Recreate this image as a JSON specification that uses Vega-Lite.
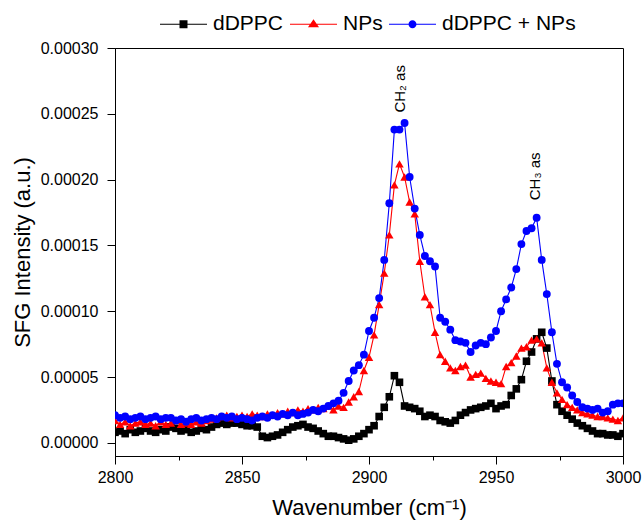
{
  "$schema": "https://vega.github.io/schema/vega-lite/v6.json",
  "width": 508,
  "height": 408,
  "autosize": {"type": "none"},
  "padding": {"left": 115, "top": 48, "right": 19, "bottom": 64},
  "config": {
    "font": "Liberation Sans",
    "view": {"stroke": "#000000", "strokeWidth": 1},
    "axis": {
      "domainColor": "#000000", "domainWidth": 1, "tickColor": "#000000", "tickWidth": 1,
      "labelColor": "#000000", "titleColor": "#000000",
      "labelFont": "Liberation Sans", "titleFont": "Liberation Sans",
      "labelFontSize": 16, "titleFontSize": 22, "titleFontWeight": "normal", "grid": false
    }
  },
  "datasets": {
    "spectra": [
      {"x":2800,"dDPPC":0.8e-5,"NPs":1.7e-5,"dDPPC + NPs":2.1e-5},
      {"x":2802,"dDPPC":0.9e-5,"NPs":1.4e-5,"dDPPC + NPs":1.9e-5},
      {"x":2804,"dDPPC":0.7e-5,"NPs":1.6e-5,"dDPPC + NPs":2.0e-5},
      {"x":2806,"dDPPC":1.0e-5,"NPs":1.3e-5,"dDPPC + NPs":1.8e-5},
      {"x":2808,"dDPPC":0.8e-5,"NPs":1.5e-5,"dDPPC + NPs":1.9e-5},
      {"x":2810,"dDPPC":0.9e-5,"NPs":1.6e-5,"dDPPC + NPs":2.0e-5},
      {"x":2812,"dDPPC":1.1e-5,"NPs":1.4e-5,"dDPPC + NPs":1.8e-5},
      {"x":2814,"dDPPC":0.9e-5,"NPs":1.5e-5,"dDPPC + NPs":1.9e-5},
      {"x":2816,"dDPPC":0.8e-5,"NPs":1.3e-5,"dDPPC + NPs":2.0e-5},
      {"x":2818,"dDPPC":1.0e-5,"NPs":1.6e-5,"dDPPC + NPs":1.8e-5},
      {"x":2820,"dDPPC":0.9e-5,"NPs":1.4e-5,"dDPPC + NPs":1.9e-5},
      {"x":2822,"dDPPC":1.2e-5,"NPs":1.5e-5,"dDPPC + NPs":1.9e-5},
      {"x":2824,"dDPPC":1.1e-5,"NPs":1.7e-5,"dDPPC + NPs":1.7e-5},
      {"x":2826,"dDPPC":0.9e-5,"NPs":1.4e-5,"dDPPC + NPs":1.8e-5},
      {"x":2828,"dDPPC":1.0e-5,"NPs":1.5e-5,"dDPPC + NPs":1.6e-5},
      {"x":2830,"dDPPC":0.8e-5,"NPs":1.4e-5,"dDPPC + NPs":1.8e-5},
      {"x":2832,"dDPPC":0.9e-5,"NPs":1.6e-5,"dDPPC + NPs":1.9e-5},
      {"x":2834,"dDPPC":1.1e-5,"NPs":1.5e-5,"dDPPC + NPs":1.7e-5},
      {"x":2836,"dDPPC":1.0e-5,"NPs":1.7e-5,"dDPPC + NPs":1.8e-5},
      {"x":2838,"dDPPC":1.2e-5,"NPs":1.8e-5,"dDPPC + NPs":1.9e-5},
      {"x":2840,"dDPPC":1.4e-5,"NPs":1.9e-5,"dDPPC + NPs":1.8e-5},
      {"x":2842,"dDPPC":1.5e-5,"NPs":2.0e-5,"dDPPC + NPs":2.0e-5},
      {"x":2844,"dDPPC":1.4e-5,"NPs":2.1e-5,"dDPPC + NPs":1.9e-5},
      {"x":2846,"dDPPC":1.5e-5,"NPs":1.9e-5,"dDPPC + NPs":2.0e-5},
      {"x":2848,"dDPPC":1.5e-5,"NPs":2.0e-5,"dDPPC + NPs":1.8e-5},
      {"x":2850,"dDPPC":1.4e-5,"NPs":2.1e-5,"dDPPC + NPs":1.9e-5},
      {"x":2852,"dDPPC":1.3e-5,"NPs":2.0e-5,"dDPPC + NPs":1.8e-5},
      {"x":2854,"dDPPC":1.3e-5,"NPs":2.2e-5,"dDPPC + NPs":1.7e-5},
      {"x":2856,"dDPPC":1.2e-5,"NPs":2.1e-5,"dDPPC + NPs":1.9e-5},
      {"x":2858,"dDPPC":0.5e-5,"NPs":2.0e-5,"dDPPC + NPs":2.0e-5},
      {"x":2860,"dDPPC":0.4e-5,"NPs":2.2e-5,"dDPPC + NPs":1.9e-5},
      {"x":2862,"dDPPC":0.5e-5,"NPs":2.1e-5,"dDPPC + NPs":2.1e-5},
      {"x":2864,"dDPPC":0.6e-5,"NPs":2.3e-5,"dDPPC + NPs":2.0e-5},
      {"x":2866,"dDPPC":0.8e-5,"NPs":2.2e-5,"dDPPC + NPs":2.2e-5},
      {"x":2868,"dDPPC":1.0e-5,"NPs":2.4e-5,"dDPPC + NPs":2.1e-5},
      {"x":2870,"dDPPC":1.2e-5,"NPs":2.3e-5,"dDPPC + NPs":2.3e-5},
      {"x":2872,"dDPPC":1.3e-5,"NPs":2.5e-5,"dDPPC + NPs":2.1e-5},
      {"x":2874,"dDPPC":1.4e-5,"NPs":2.4e-5,"dDPPC + NPs":2.2e-5},
      {"x":2876,"dDPPC":1.2e-5,"NPs":2.6e-5,"dDPPC + NPs":2.3e-5},
      {"x":2878,"dDPPC":1.1e-5,"NPs":2.5e-5,"dDPPC + NPs":2.5e-5},
      {"x":2880,"dDPPC":0.9e-5,"NPs":2.7e-5,"dDPPC + NPs":2.4e-5},
      {"x":2882,"dDPPC":0.7e-5,"NPs":2.6e-5,"dDPPC + NPs":2.6e-5},
      {"x":2884,"dDPPC":0.5e-5,"NPs":2.8e-5,"dDPPC + NPs":2.8e-5},
      {"x":2886,"dDPPC":0.5e-5,"NPs":2.5e-5,"dDPPC + NPs":3.0e-5},
      {"x":2888,"dDPPC":0.4e-5,"NPs":2.8e-5,"dDPPC + NPs":3.2e-5},
      {"x":2890,"dDPPC":0.3e-5,"NPs":2.7e-5,"dDPPC + NPs":3.8e-5},
      {"x":2892,"dDPPC":0.2e-5,"NPs":3.1e-5,"dDPPC + NPs":4.7e-5},
      {"x":2894,"dDPPC":0.3e-5,"NPs":3.5e-5,"dDPPC + NPs":5.5e-5},
      {"x":2896,"dDPPC":0.5e-5,"NPs":3.9e-5,"dDPPC + NPs":5.9e-5},
      {"x":2898,"dDPPC":0.7e-5,"NPs":5.5e-5,"dDPPC + NPs":6.7e-5},
      {"x":2900,"dDPPC":1.0e-5,"NPs":6.5e-5,"dDPPC + NPs":8.5e-5},
      {"x":2902,"dDPPC":1.3e-5,"NPs":8.2e-5,"dDPPC + NPs":9.5e-5},
      {"x":2904,"dDPPC":2.0e-5,"NPs":10.5e-5,"dDPPC + NPs":11.0e-5},
      {"x":2906,"dDPPC":2.7e-5,"NPs":12.9e-5,"dDPPC + NPs":13.9e-5},
      {"x":2908,"dDPPC":3.5e-5,"NPs":15.8e-5,"dDPPC + NPs":18.2e-5},
      {"x":2910,"dDPPC":5.1e-5,"NPs":19.6e-5,"dDPPC + NPs":23.8e-5},
      {"x":2912,"dDPPC":4.6e-5,"NPs":21.2e-5,"dDPPC + NPs":23.8e-5},
      {"x":2914,"dDPPC":2.8e-5,"NPs":20.2e-5,"dDPPC + NPs":24.3e-5},
      {"x":2916,"dDPPC":2.7e-5,"NPs":18.3e-5,"dDPPC + NPs":20.2e-5},
      {"x":2918,"dDPPC":2.6e-5,"NPs":17.4e-5,"dDPPC + NPs":17.8e-5},
      {"x":2920,"dDPPC":2.4e-5,"NPs":13.8e-5,"dDPPC + NPs":15.8e-5},
      {"x":2922,"dDPPC":2.0e-5,"NPs":11.1e-5,"dDPPC + NPs":14.2e-5},
      {"x":2924,"dDPPC":2.1e-5,"NPs":10.5e-5,"dDPPC + NPs":13.8e-5},
      {"x":2926,"dDPPC":2.0e-5,"NPs":8.4e-5,"dDPPC + NPs":13.4e-5},
      {"x":2928,"dDPPC":1.7e-5,"NPs":6.7e-5,"dDPPC + NPs":9.5e-5},
      {"x":2930,"dDPPC":1.6e-5,"NPs":6.2e-5,"dDPPC + NPs":9.2e-5},
      {"x":2932,"dDPPC":1.5e-5,"NPs":5.7e-5,"dDPPC + NPs":8.6e-5},
      {"x":2934,"dDPPC":1.7e-5,"NPs":5.5e-5,"dDPPC + NPs":7.8e-5},
      {"x":2936,"dDPPC":2.1e-5,"NPs":5.8e-5,"dDPPC + NPs":7.7e-5},
      {"x":2938,"dDPPC":2.3e-5,"NPs":5.9e-5,"dDPPC + NPs":7.6e-5},
      {"x":2940,"dDPPC":2.5e-5,"NPs":5.0e-5,"dDPPC + NPs":6.9e-5},
      {"x":2942,"dDPPC":2.6e-5,"NPs":5.2e-5,"dDPPC + NPs":7.4e-5},
      {"x":2944,"dDPPC":2.7e-5,"NPs":5.3e-5,"dDPPC + NPs":7.6e-5},
      {"x":2946,"dDPPC":2.8e-5,"NPs":4.9e-5,"dDPPC + NPs":7.5e-5},
      {"x":2948,"dDPPC":3.0e-5,"NPs":4.7e-5,"dDPPC + NPs":8.0e-5},
      {"x":2950,"dDPPC":2.6e-5,"NPs":4.6e-5,"dDPPC + NPs":8.5e-5},
      {"x":2952,"dDPPC":2.8e-5,"NPs":4.5e-5,"dDPPC + NPs":10.0e-5},
      {"x":2954,"dDPPC":2.9e-5,"NPs":5.8e-5,"dDPPC + NPs":10.9e-5},
      {"x":2956,"dDPPC":3.6e-5,"NPs":6.1e-5,"dDPPC + NPs":11.8e-5},
      {"x":2958,"dDPPC":4.1e-5,"NPs":6.6e-5,"dDPPC + NPs":13.2e-5},
      {"x":2960,"dDPPC":4.8e-5,"NPs":7.2e-5,"dDPPC + NPs":15.1e-5},
      {"x":2962,"dDPPC":6.2e-5,"NPs":7.3e-5,"dDPPC + NPs":16.1e-5},
      {"x":2964,"dDPPC":6.9e-5,"NPs":7.8e-5,"dDPPC + NPs":16.3e-5},
      {"x":2966,"dDPPC":7.9e-5,"NPs":7.9e-5,"dDPPC + NPs":17.1e-5},
      {"x":2968,"dDPPC":8.4e-5,"NPs":7.6e-5,"dDPPC + NPs":13.9e-5},
      {"x":2970,"dDPPC":7.2e-5,"NPs":5.7e-5,"dDPPC + NPs":11.3e-5},
      {"x":2972,"dDPPC":4.7e-5,"NPs":4.6e-5,"dDPPC + NPs":8.4e-5},
      {"x":2974,"dDPPC":2.9e-5,"NPs":3.8e-5,"dDPPC + NPs":6.0e-5},
      {"x":2976,"dDPPC":2.4e-5,"NPs":3.3e-5,"dDPPC + NPs":4.6e-5},
      {"x":2978,"dDPPC":2.1e-5,"NPs":2.9e-5,"dDPPC + NPs":4.2e-5},
      {"x":2980,"dDPPC":1.8e-5,"NPs":2.7e-5,"dDPPC + NPs":3.6e-5},
      {"x":2982,"dDPPC":1.5e-5,"NPs":2.5e-5,"dDPPC + NPs":3.1e-5},
      {"x":2984,"dDPPC":1.3e-5,"NPs":2.3e-5,"dDPPC + NPs":2.7e-5},
      {"x":2986,"dDPPC":1.1e-5,"NPs":2.2e-5,"dDPPC + NPs":2.6e-5},
      {"x":2988,"dDPPC":0.9e-5,"NPs":2.1e-5,"dDPPC + NPs":2.5e-5},
      {"x":2990,"dDPPC":0.7e-5,"NPs":2.0e-5,"dDPPC + NPs":2.6e-5},
      {"x":2992,"dDPPC":0.7e-5,"NPs":2.0e-5,"dDPPC + NPs":2.3e-5},
      {"x":2994,"dDPPC":0.6e-5,"NPs":1.9e-5,"dDPPC + NPs":2.4e-5},
      {"x":2996,"dDPPC":0.6e-5,"NPs":1.8e-5,"dDPPC + NPs":2.9e-5},
      {"x":2998,"dDPPC":0.5e-5,"NPs":1.7e-5,"dDPPC + NPs":3.0e-5},
      {"x":3000,"dDPPC":0.7e-5,"NPs":1.9e-5,"dDPPC + NPs":3.0e-5}
    ],
    "notes": [
      {"label": "CH₂ as", "x": 2912.2, "y": 0.000269},
      {"label": "CH₃ as", "x": 2965.4, "y": 0.0002025}
    ]
  },
  "encoding": {
    "x": {"field": "x", "type": "quantitative",
      "scale": {"domain": [2800, 3000], "nice": false, "zero": false, "padding": 0},
      "axis": {
        "title": "Wavenumber (cm⁻¹)",
        "values": [2800, 2825, 2850, 2875, 2900, 2925, 2950, 2975, 3000],
        "format": "d",
        "labelFlush": false,
        "labelExpr": "datum.value % 50 === 0 ? datum.label : ''",
        "tickSize": {"condition": {"test": "datum.value % 50 === 0", "value": 8}, "value": 4},
        "labelPadding": 5, "titlePadding": 12
      }}
  },
  "layer": [
    {
      "data": {"name": "spectra"},
      "transform": [{"fold": ["dDPPC", "NPs", "dDPPC + NPs"], "as": ["series", "intensity"]}],
      "encoding": {
        "y": {"field": "intensity", "type": "quantitative",
          "scale": {"domain": [-0.00001, 0.0003], "nice": false, "zero": false, "padding": 0},
          "axis": {
            "title": "SFG Intensity (a.u.)",
            "values": [0, 0.000025, 0.00005, 0.000075, 0.0001, 0.000125, 0.00015, 0.000175, 0.0002, 0.000225, 0.00025, 0.000275, 0.0003],
            "labelExpr": "round(datum.value * 1000000) % 50 === 0 ? format(datum.value, '.5f') : ''",
            "tickSize": {"condition": {"test": "round(datum.value * 1000000) % 50 === 0", "value": 8}, "value": 4},
            "labelPadding": 9, "titlePadding": 6
          }},
        "color": {"field": "series", "type": "nominal",
          "scale": {"domain": ["dDPPC", "NPs", "dDPPC + NPs"], "range": ["#000000", "#ff0000", "#0000ff"]},
          "legend": {
            "title": null, "orient": "none", "direction": "horizontal",
            "legendX": 45, "legendY": -47.5, "padding": 0,
            "labelFont": "Liberation Sans", "labelFontSize": 21, "labelColor": "#000000",
            "labelOffset": 6, "columnPadding": 6, "symbolSize": 2209,
            "symbolStrokeWidth": 0, "symbolOpacity": 1
          }}
      },
      "layer": [
        {"mark": {"type": "line", "strokeWidth": 1.1, "clip": true}},
        {
          "transform": [{"filter": "datum.series === 'dDPPC'"}],
          "mark": {"type": "point", "filled": true, "shape": "square", "size": 58, "opacity": 1, "clip": true}
        },
        {
          "transform": [{"filter": "datum.series === 'NPs'"}],
          "mark": {"type": "point", "filled": true, "shape": "triangle-up", "size": 72, "opacity": 1, "clip": true}
        },
        {
          "transform": [{"filter": "datum.series === 'dDPPC + NPs'"}],
          "mark": {"type": "point", "filled": true, "shape": "circle", "size": 62, "opacity": 1, "clip": true}
        },
        {
          "mark": {"type": "point", "filled": true, "size": 0, "opacity": 1, "clip": true},
          "encoding": {
            "shape": {"field": "series", "type": "nominal",
              "scale": {"domain": ["dDPPC", "NPs", "dDPPC + NPs"],
                "range": [
                  "M-1,-0.022H-0.17V0.022H-1ZM0.17,-0.022H1V0.022H0.17ZM-0.17,-0.17H0.17V0.17H-0.17Z",
                  "M-1,-0.022H-0.14V0.022H-1ZM0.14,-0.022H1V0.022H0.14ZM0,-0.21L0.235,0.13H-0.235Z",
                  "M-1,-0.022H-0.16V0.022H-1ZM0.16,-0.022H1V0.022H0.16ZM-0.17,0A0.17,0.17,0,1,1,0.17,0A0.17,0.17,0,1,1,-0.17,0Z"
                ]},
              "legend": null}
          }
        }
      ]
    },
    {
      "data": {"name": "notes"},
      "mark": {"type": "text", "angle": 270, "align": "center", "baseline": "middle", "font": "Liberation Sans", "fontSize": 15, "color": "#000000"},
      "encoding": {
        "y": {"field": "y", "type": "quantitative"},
        "text": {"field": "label"}
      }
    }
  ]
}
